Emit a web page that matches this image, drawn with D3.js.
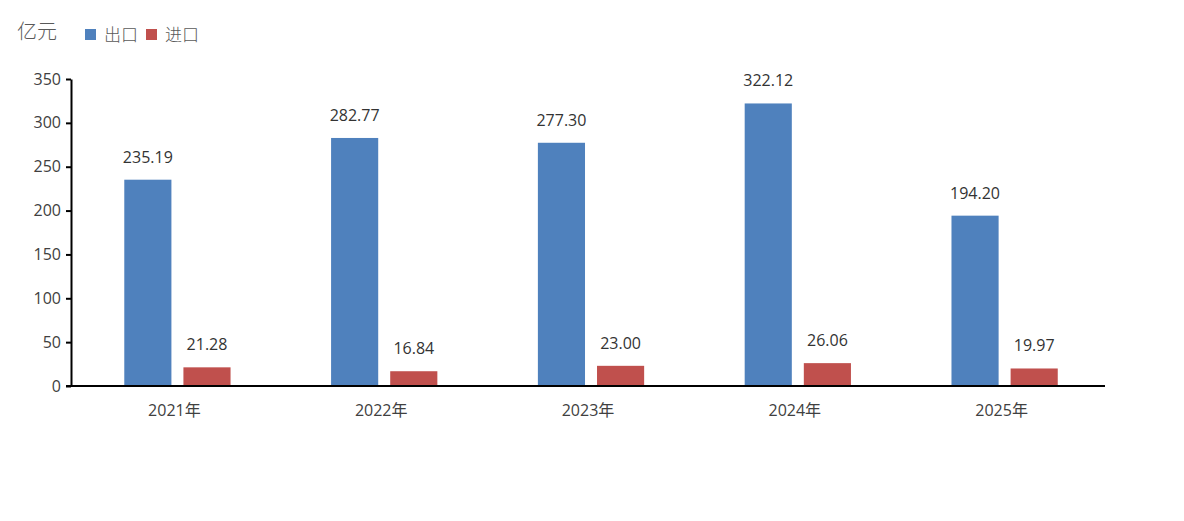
<!DOCTYPE html>
<html lang="zh">
<head>
    <meta charset="UTF-8">
    <title>进出口</title>
    <script src="https://d3js.org/d3.v7.min.js"></script>
    <style>
        body { margin: 0; background: #fff; font-family: "Open Sans", "Noto Sans CJK SC", sans-serif; }
        svg { display: block; }
    </style>
</head>
<body>
    <svg id="chart" width="1184" height="521"></svg>
    <script>
        const years = ["2021年", "2022年", "2023年", "2024年", "2025年"];
        const exportVals = [235.19, 282.77, 277.30, 322.12, 194.20];
        const importVals = [21.28, 16.84, 23.00, 26.06, 19.97];
        const seriesNames = ["出口", "进口"];
        const colors = ["#4F81BD", "#C0504D"];
        const yTicks = [0, 50, 100, 150, 200, 250, 300, 350];

        const margin = { left: 71, right: 79, top: 79, bottom: 135 };
        const W = 1184, H = 521;
        const svg = d3.select("#chart");

        const x = d3.scaleBand()
            .domain(years)
            .range([margin.left, W - margin.right]);
        const xs = d3.scaleBand()
            .domain(seriesNames)
            .range([0, x.bandwidth()])
            .paddingInner(0.203)
            .paddingOuter(0.85)
            .align(0.53);
        const y = d3.scaleLinear()
            .domain([0, 350])
            .range([H - margin.bottom, margin.top]);

        const rows = years.map((yr, i) => ({ yr, vals: [exportVals[i], importVals[i]] }));

        const g = svg.selectAll("g.grp")
            .data(rows)
            .enter().append("g")
            .attr("transform", d => `translate(${x(d.yr)},0)`);

        g.selectAll("rect")
            .data(d => d.vals.map((v, k) => ({ v, k })))
            .enter().append("rect")
            .attr("x", d => xs(seriesNames[d.k]))
            .attr("width", xs.bandwidth())
            .attr("y", d => y(d.v))
            .attr("height", d => y(0) - y(d.v))
            .attr("fill", d => colors[d.k]);

        g.selectAll("text.val")
            .data(d => d.vals.map((v, k) => ({ v, k })))
            .enter().append("text")
            .attr("class", "val")
            .attr("x", d => xs(seriesNames[d.k]) + xs.bandwidth() / 2)
            .attr("y", d => y(d.v) - 17)
            .attr("text-anchor", "middle")
            .style("font-size", "16px")
            .style("fill", "#333")
            .text(d => d.v.toFixed(2));

        // y axis
        const yAxis = svg.append("g")
            .attr("transform", `translate(${margin.left},0)`)
            .call(d3.axisLeft(y).tickValues(yTicks).tickSize(5).tickSizeOuter(0));
        yAxis.select(".domain").attr("stroke", "#000").attr("stroke-width", 2);
        yAxis.selectAll(".tick line").attr("stroke", "#000").attr("stroke-width", 2);
        yAxis.selectAll(".tick text")
            .attr("x", -10)
            .style("font-family", "'Open Sans', sans-serif")
            .style("font-size", "16px")
            .style("fill", "#404040");

        // x axis
        const xAxis = svg.append("g")
            .attr("transform", `translate(0,${y(0)})`)
            .call(d3.axisBottom(x).tickSize(0).tickSizeOuter(0));
        xAxis.select(".domain")
            .attr("d", `M${margin.left - 5},0H${W - margin.right}`)
            .attr("stroke", "#000").attr("stroke-width", 2);
        xAxis.selectAll(".tick text")
            .attr("dy", "1.7em")
            .style("font-family", "'Open Sans', 'Noto Sans CJK SC', sans-serif")
            .style("font-size", "16px")
            .style("fill", "#404040");

        // unit
        svg.append("text")
            .attr("x", 17).attr("y", 39)
            .style("font-family", "'Noto Sans CJK SC', sans-serif")
            .style("font-size", "20px")
            .style("font-weight", 300)
            .style("fill", "#595959")
            .text("亿元");

        // legend
        const legX = [85, 146];
        const leg = svg.selectAll("g.leg")
            .data(seriesNames)
            .enter().append("g")
            .attr("transform", (d, i) => `translate(${legX[i]},29)`);
        leg.append("rect")
            .attr("width", 11).attr("height", 11)
            .attr("fill", (d, i) => colors[i]);
        leg.append("text")
            .attr("x", 19).attr("y", 12)
            .style("font-family", "'Noto Sans CJK SC', sans-serif")
            .style("font-size", "17px")
            .style("font-weight", 300)
            .style("fill", "#595959")
            .text(d => d);
    </script>
</body>
</html>
